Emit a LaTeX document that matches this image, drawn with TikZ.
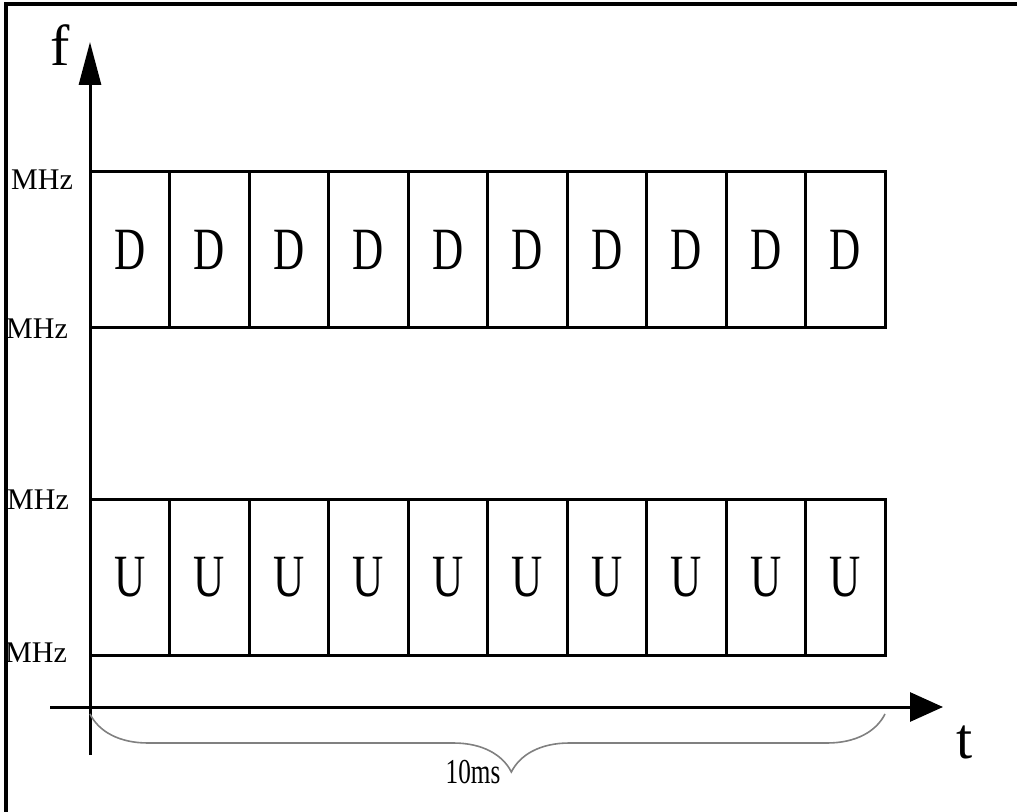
\documentclass[tikz,border=0pt]{standalone}
\usepackage{fontspec}
\setmainfont{Liberation Serif}
\newfontfamily\narrowserif[FakeStretch=0.72]{Liberation Serif}
\usetikzlibrary{arrows.meta,decorations.pathreplacing}

\tikzset{
  slot/.style={draw, line width=1.5pt, inner sep=0pt, minimum width=39.75pt, minimum height=78pt,
    font=\narrowserif\fontsize{30}{30}\selectfont},
  band/.style={font=\fontsize{15}{15}\selectfont},
  axis/.style={line width=1.5pt},
}

\begin{document}
\begin{tikzpicture}[x=0.5pt,y=-0.5pt]
\useasboundingbox (0,0) rectangle (1017,812);
\draw[line width=2pt] (6,812) -- (6,4) -- (1017,4);

% downlink and uplink slots
\foreach \i in {1,...,10} {
  \node[slot] (d\i) at ({90+79.5*(\i-0.5)},249.5) {D};
  \node[slot] (u\i) at ({90+79.5*(\i-0.5)},577) {U};
}

% axes
\coordinate (fbot) at (90,755);
\coordinate (ftop) at (90,42);
\coordinate (tleft) at (50,707);
\coordinate (tright) at (943,707);
\draw[axis, -{Triangle[length=21.5pt, width=11pt]}] (fbot) -- (ftop);
\draw[axis, -{Triangle[length=16.5pt, width=14.5pt]}] (tleft) -- (tright);
\node[font=\fontsize{29}{29}\selectfont] (flabel) at (60,45) {f};
\node[font=\fontsize{29}{29}\selectfont] (tlabel) at (965,742) {t};

% band edges
\node[band] (mhz1) at (42,180) {MHz};
\node[band] (mhz2) at (37,329) {MHz};
\node[band] (mhz3) at (38,500) {MHz};
\node[band] (mhz4) at (36,653) {MHz};

% frame length
\coordinate (bl) at (90,714);
\coordinate (br) at (885,714);
\draw[gray, line width=0.8pt, decorate, decoration={brace, mirror, amplitude=29pt, aspect=0.53}] (bl) -- (br);
\node[font=\narrowserif\fontsize{17.5}{17.5}\selectfont] (span) at (473,772) {10ms};
\end{tikzpicture}
\end{document}
